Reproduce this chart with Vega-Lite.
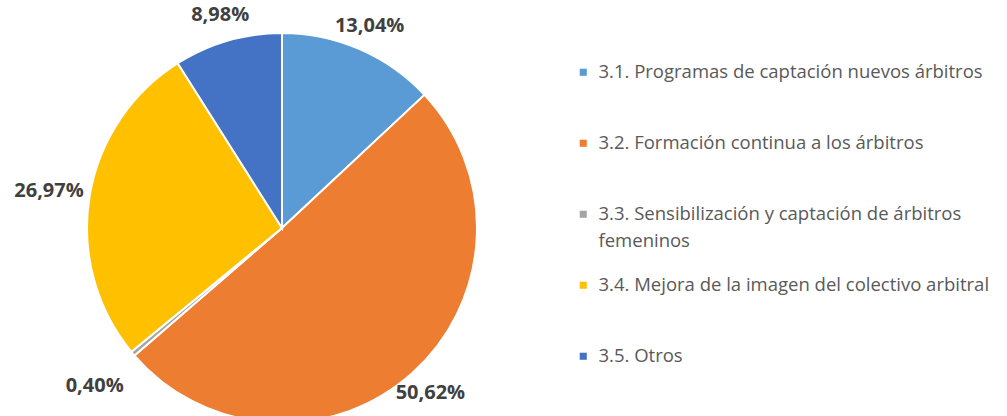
{
  "$schema": "https://vega.github.io/schema/vega-lite/v6.json",
  "width": 564,
  "height": 456,
  "padding": 0,
  "autosize": {"type": "pad"},
  "background": "white",
  "config": {"style": {"guide-label": {"lineHeight": 27}}},
  "data": {"values": [
    {"cat": "3.1. Programas de captación nuevos árbitros", "value": 13.04, "label": "13,04%", "order": 1},
    {"cat": "3.2. Formación continua a los árbitros", "value": 50.62, "label": "50,62%", "order": 2},
    {"cat": "3.3. Sensibilización y captación de árbitros femeninos", "value": 0.40, "label": "0,40%", "order": 3},
    {"cat": "3.4. Mejora de la imagen del colectivo arbitral", "value": 26.97, "label": "26,97%", "order": 4},
    {"cat": "3.5. Otros", "value": 8.98, "label": "8,98%", "order": 5}
  ]},
  "transform": [
    {"stack": "value", "groupby": [], "sort": [{"field": "order", "order": "ascending"}], "as": ["v0", "v1"]},
    {"calculate": "(datum.v0 + datum.v1) / 2", "as": "mid"}
  ],
  "layer": [
    {
      "mark": {"type": "arc", "outerRadius": 195, "stroke": "white", "strokeWidth": 2},
      "encoding": {
        "theta": {"field": "v0", "type": "quantitative", "scale": {"domain": [0, 100.01]}},
        "theta2": {"field": "v1"},
        "color": {
          "field": "cat", "type": "nominal",
          "sort": ["3.1. Programas de captación nuevos árbitros", "3.2. Formación continua a los árbitros", "3.3. Sensibilización y captación de árbitros femeninos", "3.4. Mejora de la imagen del colectivo arbitral", "3.5. Otros"],
          "scale": {
            "domain": ["3.1. Programas de captación nuevos árbitros", "3.2. Formación continua a los árbitros", "3.3. Sensibilización y captación de árbitros femeninos", "3.4. Mejora de la imagen del colectivo arbitral", "3.5. Otros"],
            "range": ["#5B9BD5", "#ED7D31", "#A5A5A5", "#FFC000", "#4472C4"]
          },
          "legend": {
            "title": null,
            "orient": "none",
            "legendX": 574,
            "legendY": 63,
            "gridAlign": "all",
            "symbolType": "square",
            "symbolSize": 50,
            "symbolStrokeWidth": 0,
            "labelFont": "Open Sans",
            "labelFontSize": 18.5,
            "labelColor": "#595959",
            "labelLimit": 600,
            "labelOffset": 6,
            "rowPadding": 25,
            "labelExpr": "datum.label == '3.3. Sensibilización y captación de árbitros femeninos' ? ['3.3. Sensibilización y captación de árbitros', 'femeninos'] : datum.label"
          }
        }
      }
    },
    {
      "mark": {"type": "text", "font": "Open Sans", "fontSize": 20, "fontWeight": "bold", "fill": "#404040"},
      "encoding": {
        "theta": {"field": "mid", "type": "quantitative", "scale": {"domain": [0, 100.01]}},
        "text": {"field": "label", "type": "nominal"},
        "radius": {"field": "order", "type": "quantitative", "scale": {"type": "linear", "zero": false, "domain": [1, 2, 3, 4, 5], "range": [220, 222, 245, 236, 222]}}
      }
    }
  ]
}
